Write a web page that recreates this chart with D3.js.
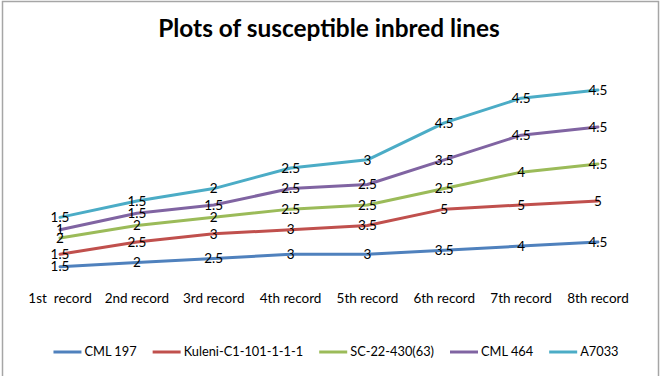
<!DOCTYPE html>
<meta charset="utf-8">
<style>
body { margin: 0; background: #fff; }
svg text { font-family: Lato, "Open Sans", sans-serif; fill: #000; }
.title { font-size: 24.4px; font-weight: bold; text-anchor: middle; }
.cat text { font-size: 13.5px; text-anchor: middle; }
.lbl { font-size: 13.5px; text-anchor: middle; }
.legend text { font-size: 12.8px; }
</style>
<body>
<svg width="666" height="376"></svg>
<script src="https://d3js.org/d3.v7.min.js"></script>
<script>

var records = ["1st  record", "2nd record", "3rd record", "4th record", "5th record", "6th record", "7th record", "8th record"];
var seriesNames = ["CML 197", "Kuleni-C1-101-1-1-1", "SC-22-430(63)", "CML 464", "A7033"];
var colors = ["#4f81bd", "#c0504d", "#9bbb59", "#8064a2", "#4bacc6"];

var cml197 = [1.5, 2, 2.5, 3, 3, 3.5, 4, 4.5];
var kuleni = [1.5, 2.5, 3, 3, 3.5, 5, 5, 5];
var sc22 = [2, 2, 2, 2.5, 2.5, 2.5, 4, 4.5];
var cml464 = [1, 1.5, 1.5, 2.5, 2.5, 3.5, 4.5, 4.5];
var a7033 = [1.5, 1.5, 2, 2.5, 3, 4.5, 4.5, 4.5];

var values = [cml197, kuleni, sc22, cml464, a7033];

var rows = records.map(function(r, i) {
  var o = { record: r };
  seriesNames.forEach(function(s, j) { o[s] = values[j][i]; });
  return o;
});

var svg = d3.select("svg");

// chart border
svg.append("rect")
    .attr("x", 2.5).attr("y", 1.5)
    .attr("width", 656).attr("height", 390)
    .attr("fill", "#fff")
    .attr("stroke", "#a6a6a6")
    .attr("stroke-width", 1.5);

svg.append("text")
    .attr("class", "title")
    .attr("x", 329).attr("y", 37)
    .text("Plots of susceptible inbred lines");

var x = d3.scaleBand()
    .domain(records)
    .range([21.6, 636.4]);

var y = d3.scaleLinear()
    .domain([0, 25])
    .range([279, 73.5]);

var stack = d3.stack().keys(seriesNames);
var stacked = stack(rows);

var line = d3.line()
    .x(function(d) { return x(d.data.record) + x.bandwidth() / 2; })
    .y(function(d) { return y(d[1]); });

var g = svg.append("g");

stacked.forEach(function(s, j) {
  g.append("path")
      .datum(s)
      .attr("d", line)
      .attr("fill", "none")
      .attr("stroke", colors[j])
      .attr("stroke-width", 3)
      .attr("stroke-linejoin", "round")
      .attr("stroke-linecap", "round");
});

stacked.forEach(function(s, j) {
  g.selectAll(null)
    .data(s)
    .enter().append("text")
      .attr("class", "lbl")
      .attr("x", function(d) { return x(d.data.record) + x.bandwidth() / 2; })
      .attr("y", function(d) { return y(d[1]); })
      .attr("dy", "0.35em")
      .text(function(d) { return d.data[s.key]; });
});

var cat = svg.append("g").attr("class", "cat");
cat.selectAll("text")
  .data(records)
  .enter().append("text")
    .attr("x", function(d) { return x(d) + x.bandwidth() / 2; })
    .attr("y", 303)
    .style("white-space", "pre")
    .text(function(d) { return d; });

// legend
var legend = svg.append("g").attr("class", "legend");
var items = legend.selectAll("g")
  .data(seriesNames)
  .enter().append("g");

items.append("line")
    .attr("x1", 0).attr("x2", 28)
    .attr("y1", 0).attr("y2", 0)
    .attr("stroke", function(d, i) { return colors[i]; })
    .attr("stroke-width", 3);

items.append("text")
    .attr("x", 31)
    .attr("dy", "0.35em")
    .text(function(d) { return d; });

var offs = [], cur = 0;
items.each(function() {
  offs.push(cur);
  cur += 31 + this.querySelector("text").getComputedTextLength() + 16;
});
var total = cur - 16;
var start = 336 - total / 2;
items.attr("transform", function(d, i) { return "translate(" + (start + offs[i]) + ",352)"; });

</script>
</body>
